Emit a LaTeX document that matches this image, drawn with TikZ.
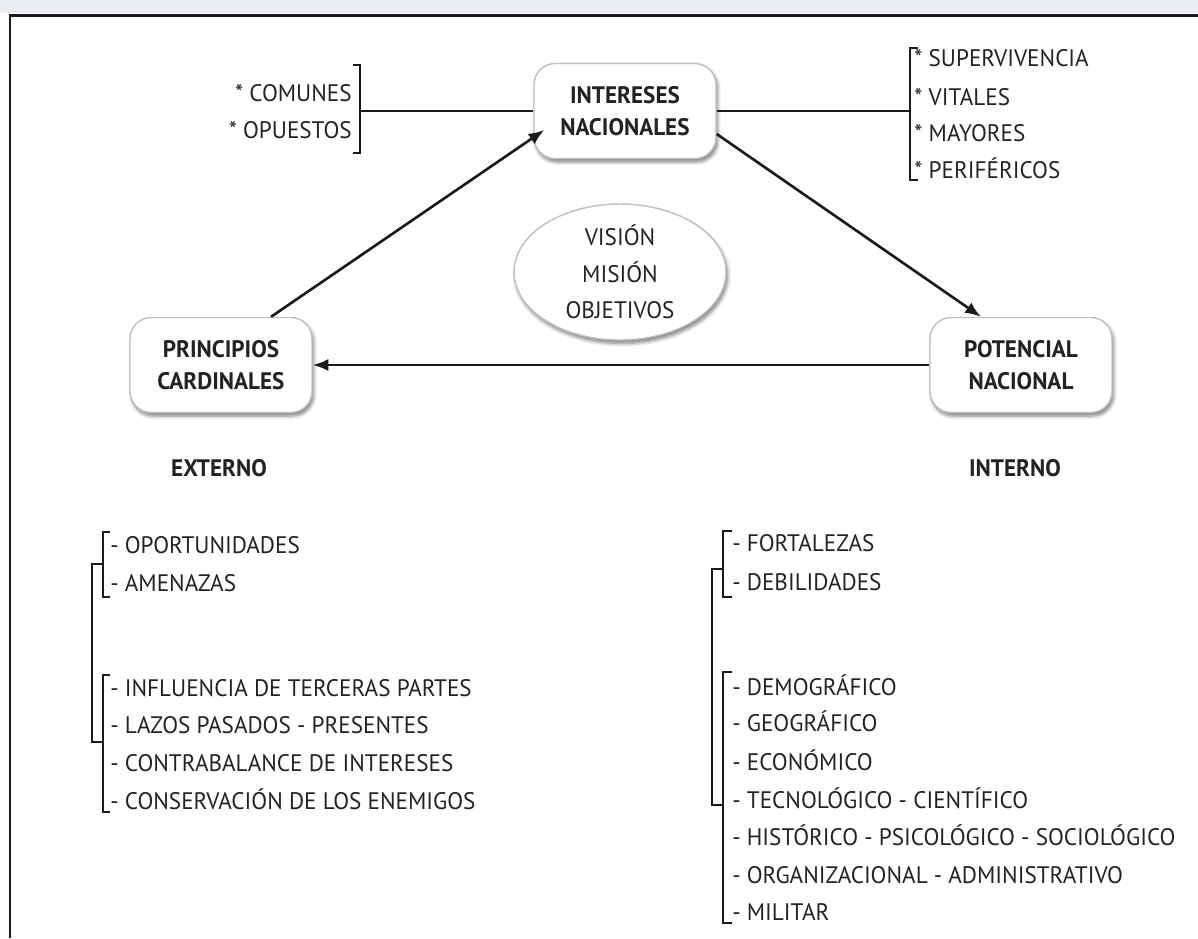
\documentclass[tikz,border=0pt]{standalone}
\usepackage{fontspec}
\setmainfont{PT Sans}[FakeStretch=0.97]
\usetikzlibrary{arrows.meta,shapes.geometric,shadows.blur,calc}
\definecolor{ink}{HTML}{222222}
\definecolor{edge}{HTML}{1A1A1A}
\definecolor{haze}{HTML}{E8ECF0}
\begin{document}
\begin{tikzpicture}[x=0.02cm,y=-0.02cm,
  every node/.style={text=ink, inner sep=0pt, font=\fontsize{13.6}{16}\selectfont},
  softshade/.style={blur shadow={shadow xshift=1pt, shadow yshift=-2pt, shadow blur steps=6, shadow opacity=50}},
  keybox/.style={rectangle, rounded corners=12pt, fill=white, draw=gray!50, line width=0.8pt,
    minimum width=3.64cm, minimum height=1.9cm, align=center, softshade,
    font=\bfseries\fontsize{13.6}{18.3}\selectfont},
  conn/.style={draw=edge, line width=1.5pt},
  arr/.style={conn, -{Latex[length=9pt,width=7pt]}},
  brk/.style={draw=edge, line width=1.2pt},
  item/.style={anchor=base west},
  heading/.style={font=\bfseries\fontsize{13.6}{16}\selectfont}
]
\useasboundingbox (0,0) rectangle (1198,938);
% light strip above the frame and the frame itself
\fill[haze] (0,0) rectangle (1198,13);
\draw[edge, line width=1.7pt] (10,938) -- (10,15) -- (1198,15);

% main boxes
\node[keybox] (inter) at (625,111) {INTERESES\\NACIONALES};
\node[keybox] (prin) at (221,365) {PRINCIPIOS\\CARDINALES};
\node[keybox] (pot) at (1021,365) {POTENCIAL\\NACIONAL};
\node[ellipse, minimum width=4.24cm, minimum height=2.72cm, fill=white, draw=gray!50,
  line width=0.8pt, softshade, align=center,
  font=\fontsize{13.6}{20.8}\selectfont] (vmo) at (620,272) {VISIÓN\\MISIÓN\\OBJETIVOS};

% arrows of the cycle
\draw[arr] ($(prin.north)+(50,0)$) -- ($(inter.west)+(11,19)$);
\draw[arr] ($(inter.east)+(0,23)$) -- ($(pot.north)+(-40,0)$);
\draw[arr] (pot.west) -- (prin.east);

% kinds of interests (left)
\node[anchor=base east] (com) at (352,101) {* COMUNES};
\node[anchor=base east] (opu) at (352,138) {* OPUESTOS};
\coordinate (bl) at (360,111);
\draw[brk] (353,65) -- (360,65) -- (360,153) -- (353,153);
\draw[conn] (inter.west) -- (bl);

% levels of interests (right)
\node[item] (s1) at (914,66) {* SUPERVIVENCIA};
\node[item] (s2) at (914,105) {* VITALES};
\node[item] (s3) at (914,141) {* MAYORES};
\node[item] (s4) at (914,178) {* PERIFÉRICOS};
\coordinate (br) at (910,111);
\draw[brk] (918,48) -- (910,48) -- (910,180) -- (918,180);
\draw[conn] (inter.east) -- (br);

% headings
\node[heading] (ext) at (219,468) {EXTERNO};
\node[heading] (int) at (1015,468) {INTERNO};

% external analysis
\node[item] (e1) at (110,553) {- OPORTUNIDADES};
\node[item] (e2) at (110,591) {- AMENAZAS};
\node[item] (e3) at (110,696) {- INFLUENCIA DE TERCERAS PARTES};
\node[item] (e4) at (110,733) {- LAZOS PASADOS - PRESENTES};
\node[item] (e5) at (110,771) {- CONTRABALANCE DE INTERESES};
\node[item] (e6) at (110,809) {- CONSERVACIÓN DE LOS ENEMIGOS};
\draw[brk] (110,532) -- (103,532) -- (103,597) -- (110,597);
\draw[brk] (110,675) -- (103,675) -- (103,812) -- (110,812);
\draw[brk] (103,564) -- (92,564) -- (92,742) -- (103,742);

% internal analysis
\node[item] (i1) at (732,551) {- FORTALEZAS};
\node[item] (i2) at (732,590) {- DEBILIDADES};
\node[item] (i3) at (732,695) {- DEMOGRÁFICO};
\node[item] (i4) at (732,731) {- GEOGRÁFICO};
\node[item] (i5) at (732,770) {- ECONÓMICO};
\node[item] (i6) at (732,808) {- TECNOLÓGICO - CIENTÍFICO};
\node[item] (i7) at (732,845) {- HISTÓRICO - PSICOLÓGICO - SOCIOLÓGICO};
\node[item] (i8) at (732,883) {- ORGANIZACIONAL - ADMINISTRATIVO};
\node[item] (i9) at (732,920) {- MILITAR};
\draw[brk] (732,531) -- (723,531) -- (723,597) -- (732,597);
\draw[brk] (732,672) -- (723,672) -- (723,923) -- (732,923);
\draw[brk] (723,569) -- (712,569) -- (712,805) -- (723,805);
\end{tikzpicture}
\end{document}
